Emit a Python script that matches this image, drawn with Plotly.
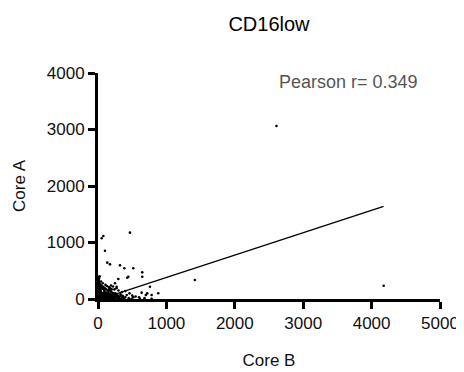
import plotly.graph_objects as go

title_text = "CD16low"
x_title = "Core B"
y_title = "Core A"
pearson_label = "Pearson r= 0.349"

x_ticks = [0, 1000, 2000, 3000, 4000, 5000]
y_ticks = [0, 1000, 2000, 3000, 4000]

# scattered points away from the dense cluster
outer_x = [78, 467, 102, 54, 136, 175, 321, 384, 516, 647, 647, 443, 428, 297, 1416,
           759, 881, 784, 638, 516, 491, 613, 784, 370, 331, 248, 273, 2609, 4176]
outer_y = [1115, 1174, 855, 1075, 643, 613, 596, 543, 543, 472, 395, 395, 377, 354, 336,
           218, 101, 71, 112, 30, 5, 3, 4, 41, 53, 278, 218, 3062, 235]

# dense cluster near origin
cluster_x = [10, 15, 20, 8, 25, 30, 12, 18, 35, 40, 22, 45, 50, 28, 55, 60, 15, 65, 70, 32,
             75, 80, 38, 85, 90, 42, 95, 100, 48, 105, 110, 52, 115, 120, 58, 130, 140, 150, 160, 170,
             180, 190, 200, 210, 220, 230, 240, 250, 260, 280, 300, 320, 350, 380, 130, 150, 170, 190, 210, 230,
             200, 180, 160, 140, 120, 100, 90, 80, 70, 60, 50, 40, 30, 20, 5, 5, 6, 3, 10, 20,
             25, 35, 45, 55, 62, 75, 85, 95, 105, 115, 125, 135, 145, 155, 165, 175, 185, 195, 205, 215,
             225, 235, 245, 255, 270, 290, 310, 330, 360, 400, 420, 450, 460, 500, 550, 600, 680, 700, 720, 400,
             350, 300, 270, 240, 220, 190, 160, 130, 110, 70, 45, 15, 8, 25, 12, 18, 28, 33, 38, 43,
             58, 68, 78, 88, 98, 108, 118, 128, 138, 148, 158, 168, 110, 95]
cluster_y = [330, 300, 260, 230, 210, 190, 180, 160, 170, 140, 130, 120, 110, 100, 95, 85, 80, 75, 65, 60,
             55, 50, 45, 40, 35, 30, 28, 24, 20, 16, 12, 8, 6, 4, 3, 2, 10, 20, 30, 40,
             25, 15, 8, 5, 28, 40, 15, 8, 45, 25, 12, 6, 20, 10, 110, 120, 150, 130, 110, 100,
             170, 190, 170, 150, 170, 190, 160, 210, 180, 230, 200, 250, 230, 280, 260, 120, 50, 25, 8, 4,
             35, 20, 55, 35, 15, 12, 6, 90, 70, 55, 40, 75, 60, 80, 90, 65, 85, 70, 55, 75,
             60, 85, 55, 100, 75, 60, 45, 85, 55, 30, 70, 15, 100, 60, 45, 30, 15, 70, 100, 140,
             125, 150, 190, 170, 220, 240, 210, 230, 250, 280, 310, 360, 390, 400, 25, 55, 12, 80, 100, 65,
             45, 100, 85, 115, 130, 110, 95, 80, 40, 28, 12, 4, 40, 50]

xs = outer_x + cluster_x
ys = outer_y + cluster_y

# linear regression shown in the reference
fit_slope = 0.396
fit_intercept = -15.0
fit_x = [min(xs), max(xs)]
fit_y = [fit_intercept + fit_slope * v for v in fit_x]

font_family = "Liberation Sans, Arial, Helvetica, sans-serif"
W, H = 464, 372
OFF = 8  # default page body margin shifts the figure by this much

fig = go.Figure()
fig.add_trace(go.Scatter(
    x=xs, y=ys, mode="markers",
    marker=dict(color="black", size=2.6, line=dict(width=0)),
    cliponaxis=False, showlegend=False,
))
fig.add_trace(go.Scatter(
    x=fit_x, y=fit_y, mode="lines",
    line=dict(color="black", width=1.3),
    showlegend=False,
))

axis_common = dict(
    showline=True, linecolor="black", linewidth=3,
    ticks="outside", ticklen=7, tickwidth=3, tickcolor="black",
    showgrid=False, zeroline=False, automargin=False,
    tickfont=dict(family=font_family, size=17, color="#111"),
)

fig.update_layout(
    width=W, height=H,
    margin=dict(l=98 - OFF, r=W - (440 - OFF), t=73 - OFF, b=H - (299 - OFF)),
    paper_bgcolor="white", plot_bgcolor="white",
    font=dict(family=font_family, color="#111"),
    title=dict(text=title_text, x=(269 - OFF) / W, xref="container",
               y=1 - (24 - OFF) / H, yref="container",
               xanchor="center", yanchor="middle",
               font=dict(family=font_family, size=20, color="black")),
    xaxis=dict(range=[0, 5000], tickvals=x_ticks,
               title=dict(text=x_title, font=dict(family=font_family, size=17, color="#111"), standoff=22),
               **axis_common),
    yaxis=dict(range=[0, 4000], tickvals=y_ticks,
               title=dict(text=y_title, font=dict(family=font_family, size=17, color="#111"), standoff=17),
               **axis_common),
    annotations=[dict(
        text=pearson_label, x=2610, y=3840, xref="x", yref="y",
        xanchor="left", yanchor="middle", showarrow=False,
        font=dict(family=font_family, size=18, color="#555"),
    )],
)

fig.write_html("out.html")
